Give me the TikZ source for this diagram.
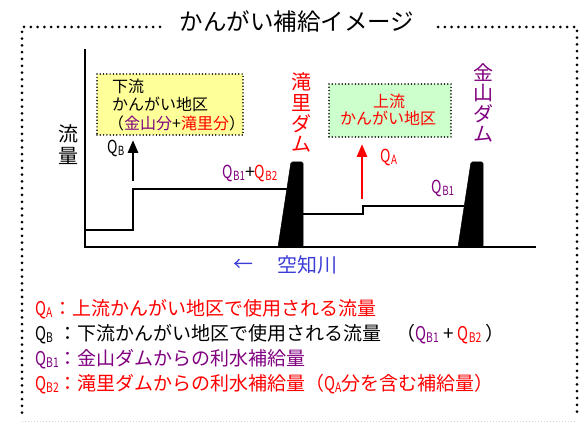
\documentclass[tikz,border=0pt]{standalone}
\usepackage{fontspec}
\usepackage{graphicx}
\setmainfont{Noto Sans CJK JP}
\newfontfamily\qfont[FakeStretch=0.78]{Noto Sans CJK JP}
\usetikzlibrary{arrows.meta}
\definecolor{vio}{RGB}{128,0,128}
\definecolor{rblue}{RGB}{60,60,215}
\definecolor{ylw}{RGB}{255,255,153}
\definecolor{grn}{RGB}{204,255,204}
\newcommand\qq[1]{{\qfont Q\raisebox{-0.15em}{\scalebox{0.7}{#1}}}}
\tikzset{
  outerdots/.style={line width=3pt, line cap=round, dash pattern=on 0pt off 6.8pt},
  boxdots/.style={line width=1.7pt, line cap=round, dash pattern=on 0pt off 3.3pt},
  axisline/.style={line width=2.8pt, line cap=rect},
  flowline/.style={line width=2.6pt},
  dam/.style={fill=black, draw=black, line width=0.5pt, rounded corners=1.5pt},
  arr/.style={line width=2.8pt, -{Triangle[width=10pt,length=13pt]}},
  lg/.style={font=\fontsize{19}{19}\selectfont, inner sep=0pt, anchor=base west},
  ql/.style={font=\fontsize{18}{18}\selectfont, inner sep=0pt},
  boxtxt/.style={font=\fontsize{16}{16}\selectfont, inner sep=0pt},
  damtxt/.style={font=\fontsize{20}{20}\selectfont, inner sep=0pt},
}
\begin{document}
\begin{tikzpicture}[x=1pt,y=-1pt]
\useasboundingbox (0,0) rectangle (581,422);
% outer frame and title
\node[font=\fontsize{23.5}{23.5}\selectfont, inner sep=0pt] (title) at (297,22) {かんがい補給イメージ};
\draw[outerdots] (160,27) -- (22,27) -- (22,418);
\draw[outerdots] (438,27) -- (577,27) -- (577,418);
\draw[gray!35, line width=0.8pt, dash pattern=on 1pt off 2pt] (22,421) -- (577,421);
% axes
\coordinate (axtop) at (85,50);
\coordinate (axorig) at (85,247);
\coordinate (axend) at (535,247);
\draw[axisline] (axtop) -- (axorig) -- (axend);
\node[damtxt] (ryu) at (68,134) {流};
\node[damtxt] (ryo) at (68,156) {量};
% flow line
\draw[flowline] (85,230) -- (133,230) -- (133,189) -- (287,189);
\draw[flowline] (302,214) -- (363,214) -- (363,206) -- (464,206);
% dams
\draw[dam] (278,247) -- (291,162) -- (303,162) -- (303,247) -- cycle;
\draw[dam] (458,247) -- (471,162) -- (483,162) -- (483,247) -- cycle;
% dam labels
\node[damtxt, red] (t1) at (301,82) {滝};
\node[damtxt, red] (t2) at (301,103) {里};
\node[damtxt, red] (t3) at (301,124) {ダ};
\node[damtxt, red] (t4) at (301,144) {ム};
\node[damtxt, vio] (k1) at (483,72.5) {金};
\node[damtxt, vio] (k2) at (483,93) {山};
\node[damtxt, vio] (k3) at (483,114) {ダ};
\node[damtxt, vio] (k4) at (483,134) {ム};
% boxes
\node[boxdots, draw=black, fill=ylw, minimum width=146pt, minimum height=61pt, inner sep=0pt] (ybox) at (170,104.5) {};
\node[boxtxt, anchor=west] (y1) at (112,86) {下流};
\node[boxtxt, anchor=west] (y2) at (112,104.5) {かんがい地区};
\node[boxtxt, anchor=west] (y3) at (108,123) {（\textcolor{vio}{金山分}+\textcolor{red}{滝里分}）};
\node[boxdots, draw=black, fill=grn, minimum width=122pt, minimum height=53pt, inner sep=0pt] (gbox) at (390,110.5) {};
\node[boxtxt, red] (g1) at (389,101) {上流};
\node[boxtxt, red] (g2) at (388,118.5) {かんがい地区};
% arrows
\coordinate (qbs) at (133,181);
\coordinate (qbe) at (133,140);
\draw[arr] (qbs) -- (qbe);
\coordinate (qas) at (362,199);
\coordinate (qae) at (362,144);
\draw[arr, red] (qas) -- (qae);
% flow labels
\node[ql] (lqb) at (116,148) {\qq{B}};
\node[ql, red] (lqa) at (389,157) {\qq{A}};
\node[ql] (lqb12) at (250,173) {\textcolor{vio}{\qq{B1}}+\textcolor{red}{\qq{B2}}};
\node[ql, vio] (lqb1) at (443,188) {\qq{B1}};
% river
\node[damtxt, rblue] (rarr) at (243,265) {←};
\node[damtxt, rblue] (river) at (307,265) {空知川};
% legend
\node[lg, red] (la) at (35,315) {\qq{A}};
\node[lg, red] (lat) at (53,315) {：上流かんがい地区で使用される流量};
\node[lg] (lb) at (35,340) {\qq{B}};
\node[lg] (lbt) at (58,340) {：下流かんがい地区で使用される流量};
\node[lg] (lbp) at (396,340) {（\textcolor{vio}{\qq{B1}} + \textcolor{red}{\qq{B2}} ）};
\node[lg, vio] (lb1) at (35,365) {\qq{B1}};
\node[lg, vio] (lb1t) at (58,365) {：金山ダムからの利水補給量};
\node[lg, red] (lb2) at (35,390) {\qq{B2}};
\node[lg, red] (lb2t) at (58,390) {：滝里ダムからの利水補給量（\qq{A}分を含む補給量）};
\end{tikzpicture}
\end{document}
